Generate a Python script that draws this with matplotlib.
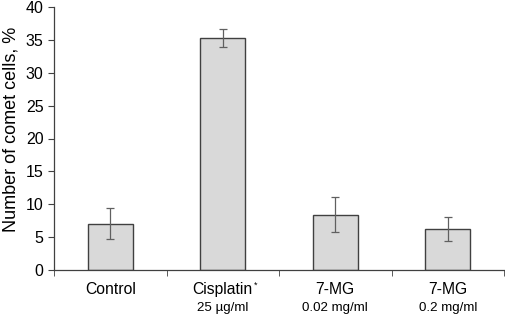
import matplotlib.pyplot as plt
import numpy as np
from matplotlib.ticker import FixedLocator
from matplotlib.transforms import blended_transform_factory

plt.rcParams['font.family'] = ['Liberation Sans', 'DejaVu Sans']

groups = ['Control', 'Cisplatin', '7-MG', '7-MG']
marks = ['', '*', '', '']
doses = ['', '25 µg/ml', '0.02 mg/ml', '0.2 mg/ml']
values = [7.05, 35.3, 8.4, 6.25]
errors = [2.35, 1.35, 2.65, 1.8]

fig = plt.figure(figsize=(5.05, 3.16), dpi=100)
ax = fig.add_axes([54 / 505, 46 / 316, 450 / 505, 263 / 316])

x = np.arange(len(values))
ax.bar(x, values, width=0.4, color='#d9d9d9', edgecolor='#404040', linewidth=1.0, zorder=2)
ax.errorbar(x, values, yerr=errors, fmt='none', ecolor='#606060', elinewidth=0.9,
            capsize=3, capthick=0.9, zorder=3)

ax.set_xlim(-0.5, len(values) - 0.5)
ax.set_ylim(0, 40)
ax.set_yticks(range(0, 41, 5))
ax.tick_params(axis='y', labelsize=11.5, length=4, color='#404040', direction='out')

ax.set_xticks(x)
ax.set_xticklabels([])
ax.tick_params(axis='x', which='major', length=0)
ax.xaxis.set_minor_locator(FixedLocator(np.arange(-0.5, len(values), 1.0)))
ax.tick_params(axis='x', which='minor', length=4, color='#404040', direction='out')

# two-line category labels: name (with optional mark) and dose
trans = blended_transform_factory(ax.transData, ax.transAxes)
for xi, g, m, d in zip(x, groups, marks, doses):
    t = ax.text(xi, -24 / 263, g, transform=trans, ha='center', va='baseline', fontsize=11.3)
    if m:
        fig.canvas.draw()
        bb = t.get_window_extent()
        x1, y1 = ax.transAxes.inverted().transform((bb.x1, bb.y1))
        ax.text(x1 + 0.003, y1 + 0.006, m, transform=ax.transAxes, ha='left', va='top', fontsize=6.5)
    if d:
        ax.text(xi, -41 / 263, d, transform=trans, ha='center', va='baseline', fontsize=9.6)

ax.set_ylabel('Number of comet cells, %', fontsize=13)
ax.yaxis.set_label_coords(-34 / 450, 141 / 263)

for s in ['top', 'right']:
    ax.spines[s].set_visible(False)
for s in ['left', 'bottom']:
    ax.spines[s].set_color('#404040')
    ax.spines[s].set_linewidth(0.9)

fig.savefig('out.png', dpi=100)
